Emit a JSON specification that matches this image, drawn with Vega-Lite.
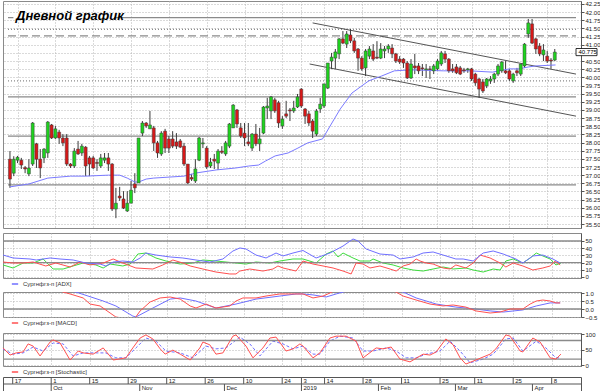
{
"$schema": "https://vega.github.io/schema/vega-lite/v6.json",
"padding": 0,
"background": "white",
"config": {"view": {"stroke": "#8a8a8a"}, "font": "Liberation Sans", "axis": {"labelFont": "Liberation Sans", "labelFontSize": 6, "labelColor": "#222", "tickColor": "#555", "domainColor": "#555", "tickSize": 3, "labelPadding": 1, "labelOverlap": false, "labelBound": false}, "legend": {"labelFont": "Liberation Sans"}},
"datasets": {
"candles": [
{"i":0,"o":37.49,"h":37.74,"l":36.61,"c":36.88},{"i":1,"o":37.06,"h":37.58,"l":36.97,"c":37.49},{"i":2,"o":37.46,"h":37.59,"l":37.37,"c":37.55},{"i":3,"o":37.46,"h":37.53,"l":37.19,"c":37.31},{"i":4,"o":37.23,"h":37.28,"l":37.06,"c":37.19},
{"i":5,"o":37.04,"h":37.49,"l":36.97,"c":37.22},{"i":6,"o":37.34,"h":38.63,"l":37.28,"c":38.6},{"i":7,"o":37.96,"h":37.99,"l":37.22,"c":37.49},{"i":8,"o":37.49,"h":37.8,"l":36.91,"c":37.22},{"i":9,"o":37.53,"h":37.83,"l":37.37,"c":37.8},
{"i":10,"o":37.68,"h":38.66,"l":37.53,"c":38.63},{"i":11,"o":38.54,"h":38.57,"l":38.11,"c":38.14},{"i":12,"o":38.14,"h":38.51,"l":38.11,"c":38.42},{"i":13,"o":38.32,"h":38.39,"l":37.96,"c":38.14},{"i":14,"o":38.14,"h":38.26,"l":37.89,"c":37.99},
{"i":15,"o":38.14,"h":38.26,"l":37.28,"c":37.34},{"i":16,"o":37.34,"h":37.37,"l":37.22,"c":37.28},{"i":17,"o":37.28,"h":37.83,"l":37.22,"c":37.74},{"i":18,"o":37.8,"h":38.05,"l":37.62,"c":37.65},{"i":19,"o":37.68,"h":37.96,"l":37.59,"c":37.89},
{"i":20,"o":37.86,"h":37.89,"l":36.97,"c":37.28},{"i":21,"o":37.53,"h":37.59,"l":36.97,"c":37.34},{"i":22,"o":37.53,"h":37.59,"l":37.19,"c":37.22},{"i":23,"o":37.39,"h":37.49,"l":37.13,"c":37.36},{"i":24,"o":37.28,"h":37.65,"l":37.22,"c":37.53},
{"i":25,"o":37.46,"h":37.68,"l":37.37,"c":37.53},{"i":26,"o":37.53,"h":37.68,"l":37.13,"c":37.34},{"i":27,"o":37.34,"h":37.37,"l":35.9,"c":35.96},{"i":28,"o":35.96,"h":36.61,"l":35.68,"c":36.14},{"i":29,"o":36.36,"h":36.64,"l":36.21,"c":36.3},
{"i":30,"o":36.27,"h":36.51,"l":35.96,"c":35.99},{"i":31,"o":35.9,"h":36.51,"l":35.87,"c":36.14},{"i":32,"o":36.14,"h":36.82,"l":36.14,"c":36.54},{"i":33,"o":36.73,"h":37.06,"l":36.45,"c":36.61},{"i":34,"o":36.76,"h":38.14,"l":36.76,"c":38.14},
{"i":35,"o":38.29,"h":38.66,"l":38.2,"c":38.6},{"i":36,"o":38.6,"h":38.63,"l":38.45,"c":38.51},{"i":37,"o":38.42,"h":38.97,"l":38.42,"c":38.54},{"i":38,"o":38.45,"h":38.51,"l":37.74,"c":37.99},{"i":39,"o":37.99,"h":38.05,"l":37.53,"c":37.68},
{"i":40,"o":37.65,"h":38.35,"l":37.59,"c":38.29},{"i":41,"o":38.35,"h":38.42,"l":37.68,"c":37.83},{"i":42,"o":38.11,"h":38.2,"l":37.68,"c":37.83},{"i":43,"o":38.11,"h":38.35,"l":37.83,"c":37.89},{"i":44,"o":38.02,"h":38.29,"l":37.8,"c":37.89},
{"i":45,"o":38.05,"h":38.11,"l":37.83,"c":37.86},{"i":46,"o":37.89,"h":37.99,"l":37.28,"c":37.34},{"i":47,"o":37.34,"h":37.34,"l":36.73,"c":36.76},{"i":48,"o":36.93,"h":37.04,"l":36.82,"c":36.88},{"i":49,"o":36.82,"h":37.49,"l":36.76,"c":37.19},
{"i":50,"o":37.46,"h":38.17,"l":37.43,"c":38.14},{"i":51,"o":37.96,"h":38.14,"l":37.83,"c":37.99},{"i":52,"o":37.83,"h":37.89,"l":37.19,"c":37.25},{"i":53,"o":37.28,"h":37.53,"l":37.22,"c":37.4},{"i":54,"o":37.49,"h":37.65,"l":37.19,"c":37.43},
{"i":55,"o":37.37,"h":37.8,"l":37.16,"c":37.74},{"i":56,"o":37.74,"h":37.89,"l":37.65,"c":37.7},{"i":57,"o":37.65,"h":38.05,"l":37.59,"c":37.99},{"i":58,"o":37.89,"h":38.6,"l":37.83,"c":38.57},{"i":59,"o":38.45,"h":39.18,"l":38.45,"c":39.15},
{"i":60,"o":39.0,"h":39.03,"l":38.45,"c":38.57},{"i":61,"o":38.45,"h":38.6,"l":38.14,"c":38.2},{"i":62,"o":38.29,"h":38.6,"l":37.89,"c":38.14},{"i":63,"o":38.02,"h":38.6,"l":37.89,"c":37.96},{"i":64,"o":37.83,"h":38.29,"l":37.74,"c":38.26},
{"i":65,"o":38.26,"h":38.57,"l":37.89,"c":37.96},{"i":66,"o":37.96,"h":38.45,"l":37.74,"c":38.11},{"i":67,"o":38.29,"h":39.12,"l":38.26,"c":39.09},{"i":68,"o":39.06,"h":39.37,"l":38.72,"c":39.12},{"i":69,"o":38.97,"h":39.43,"l":38.72,"c":39.4},
{"i":70,"o":39.31,"h":39.37,"l":38.91,"c":38.97},{"i":71,"o":39.22,"h":39.28,"l":38.45,"c":38.6},{"i":72,"o":38.51,"h":38.81,"l":38.42,"c":38.72},{"i":73,"o":38.88,"h":39.28,"l":38.75,"c":38.81},{"i":74,"o":39.0,"h":39.06,"l":38.66,"c":38.97},
{"i":75,"o":38.97,"h":39.28,"l":38.91,"c":39.06},{"i":76,"o":39.09,"h":39.49,"l":39.06,"c":39.4},{"i":77,"o":39.64,"h":39.67,"l":39.06,"c":39.12},{"i":78,"o":39.03,"h":39.06,"l":38.57,"c":38.81},{"i":79,"o":38.88,"h":38.97,"l":38.51,"c":38.6},
{"i":80,"o":38.66,"h":38.72,"l":38.14,"c":38.35},{"i":81,"o":38.26,"h":39.03,"l":38.2,"c":38.97},{"i":82,"o":39.03,"h":39.37,"l":38.91,"c":39.18},{"i":83,"o":39.12,"h":39.8,"l":39.06,"c":39.8},{"i":84,"o":39.67,"h":40.44,"l":39.64,"c":40.44},
{"i":85,"o":40.5,"h":40.75,"l":40.26,"c":40.62},{"i":86,"o":40.59,"h":40.87,"l":40.26,"c":40.78},{"i":87,"o":40.72,"h":41.21,"l":40.56,"c":41.18},{"i":88,"o":41.18,"h":41.42,"l":41.02,"c":41.05},{"i":89,"o":41.02,"h":41.42,"l":40.9,"c":41.33},
{"i":90,"o":41.3,"h":41.48,"l":41.05,"c":41.12},{"i":91,"o":41.12,"h":41.21,"l":40.75,"c":40.81},{"i":92,"o":40.87,"h":40.9,"l":40.2,"c":40.59},{"i":93,"o":40.59,"h":40.65,"l":40.2,"c":40.26},{"i":94,"o":40.29,"h":40.87,"l":40.04,"c":40.81},
{"i":95,"o":40.65,"h":40.96,"l":40.56,"c":40.87},{"i":96,"o":40.81,"h":41.02,"l":40.5,"c":40.56},{"i":97,"o":40.62,"h":41.11,"l":40.56,"c":40.59},{"i":98,"o":40.59,"h":41.05,"l":40.56,"c":40.87},{"i":99,"o":40.81,"h":40.96,"l":40.59,"c":40.87},
{"i":100,"o":40.87,"h":41.02,"l":40.75,"c":40.96},{"i":101,"o":40.9,"h":41.02,"l":40.59,"c":40.72},{"i":102,"o":40.72,"h":40.75,"l":40.44,"c":40.5},{"i":103,"o":40.56,"h":40.65,"l":40.41,"c":40.47},{"i":104,"o":40.56,"h":40.59,"l":40.29,"c":40.44},
{"i":105,"o":40.44,"h":40.5,"l":39.95,"c":39.98},{"i":106,"o":39.98,"h":40.56,"l":39.95,"c":40.41},{"i":107,"o":40.35,"h":40.72,"l":40.1,"c":40.29},{"i":108,"o":40.35,"h":40.44,"l":40.1,"c":40.2},{"i":109,"o":40.29,"h":40.41,"l":40.04,"c":40.26},
{"i":110,"o":40.23,"h":40.41,"l":39.98,"c":40.26},{"i":111,"o":40.26,"h":40.35,"l":39.95,"c":40.24},{"i":112,"o":40.2,"h":40.41,"l":40.1,"c":40.35},{"i":113,"o":40.26,"h":40.56,"l":40.2,"c":40.5},{"i":114,"o":40.41,"h":40.81,"l":40.35,"c":40.75},
{"i":115,"o":40.72,"h":40.81,"l":40.44,"c":40.56},{"i":116,"o":40.56,"h":40.59,"l":40.14,"c":40.2},{"i":117,"o":40.26,"h":40.41,"l":40.14,"c":40.2},{"i":118,"o":40.32,"h":40.41,"l":40.1,"c":40.14},{"i":119,"o":40.29,"h":40.35,"l":40.07,"c":40.1},
{"i":120,"o":40.23,"h":40.29,"l":40.14,"c":40.2},{"i":121,"o":40.23,"h":40.29,"l":40.14,"c":40.26},{"i":122,"o":40.26,"h":40.29,"l":39.89,"c":39.95},{"i":123,"o":40.1,"h":40.14,"l":39.74,"c":39.83},{"i":124,"o":39.95,"h":39.98,"l":39.37,"c":39.64},
{"i":125,"o":39.86,"h":39.95,"l":39.52,"c":39.58},{"i":126,"o":39.74,"h":39.98,"l":39.67,"c":39.95},{"i":127,"o":39.89,"h":40.04,"l":39.8,"c":39.95},{"i":128,"o":39.95,"h":40.14,"l":39.83,"c":40.1},{"i":129,"o":40.1,"h":40.41,"l":40.04,"c":40.35},
{"i":130,"o":40.2,"h":40.5,"l":40.14,"c":40.47},{"i":131,"o":40.2,"h":40.5,"l":40.1,"c":40.14},{"i":132,"o":40.2,"h":40.26,"l":39.89,"c":39.95},{"i":133,"o":39.89,"h":40.14,"l":39.83,"c":40.1},{"i":134,"o":40.2,"h":40.29,"l":40.04,"c":40.14},
{"i":135,"o":40.1,"h":40.41,"l":40.04,"c":40.41},{"i":136,"o":40.35,"h":41.05,"l":40.29,"c":41.02},{"i":137,"o":41.33,"h":41.79,"l":41.21,"c":41.67},{"i":138,"o":41.64,"h":41.79,"l":41.02,"c":41.05},{"i":139,"o":41.18,"h":41.21,"l":40.72,"c":40.87},
{"i":140,"o":40.96,"h":41.05,"l":40.65,"c":40.72},{"i":141,"o":40.69,"h":41.02,"l":40.5,"c":40.84},{"i":142,"o":40.65,"h":40.81,"l":40.44,"c":40.5},{"i":143,"o":40.53,"h":40.59,"l":40.26,"c":40.5},{"i":144,"o":40.53,"h":40.87,"l":40.5,"c":40.775}
],
"ma": [{"i":0,"p":36.64},{"i":5,"p":36.73},{"i":10,"p":36.91},{"i":16,"p":36.97},{"i":20,"p":36.97},{"i":26,"p":37.0},{"i":29,"p":37.0},{"i":31,"p":36.91},{"i":33,"p":36.79},{"i":34,"p":36.79},{"i":36,"p":36.88},{"i":38,"p":36.91},{"i":46,"p":36.97},{"i":49.4,"p":37.07},{"i":54.5,"p":37.16},{"i":59.7,"p":37.22},{"i":63.1,"p":37.28},{"i":65.7,"p":37.31},{"i":67.5,"p":37.43},{"i":70.1,"p":37.59},{"i":73.5,"p":37.68},{"i":76.1,"p":37.83},{"i":78.7,"p":37.99},{"i":82.6,"p":38.11},{"i":85.7,"p":38.72},{"i":87.3,"p":39.03},{"i":90.4,"p":39.52},{"i":94.8,"p":39.89},{"i":98.2,"p":40.04},{"i":101.6,"p":40.2},{"i":106,"p":40.23},{"i":114.5,"p":40.2},{"i":121.6,"p":40.2},{"i":127.5,"p":40.16},{"i":132,"p":40.26},{"i":134.5,"p":40.26},{"i":137.1,"p":40.32},{"i":139,"p":40.35},{"i":144.2,"p":40.38}],
"trend": [{"id":"u","i":80,"p":41.67},{"id":"u","i":149.61,"p":40.1},{"id":"d","i":79.2,"p":40.41},{"id":"d","i":149.61,"p":38.81}],
"levels": [{"p":41.83,"a":-0.52,"b":0.9,"k":"solid"},{"p":41.83,"a":27.5,"b":149.61,"k":"solid"},{"p":41.47,"a":-0.52,"b":149.61,"k":"dotted"},{"p":41.27,"a":-0.52,"b":149.61,"k":"dashed"},{"p":39.89,"a":-0.52,"b":149.61,"k":"dotted"},{"p":39.4,"a":-0.52,"b":149.61,"k":"solid"},{"p":38.2,"a":-0.52,"b":149.61,"k":"solid"},{"p":36.7,"a":-0.52,"b":149.61,"k":"solid"}],
"adx": [
{"s":"A","i":-0.5,"v":30.5},{"s":"A","i":2.1,"v":26.4},{"s":"A","i":6.5,"v":25},{"s":"A","i":8.1,"v":23.6},{"s":"A","i":11.7,"v":26.4},{"s":"A","i":14.3,"v":25},{"s":"A","i":17.7,"v":23.6},{"s":"A","i":21,"v":19.4},{"s":"A","i":24.7,"v":18},{"s":"A","i":26.2,"v":15.3},{"s":"A","i":28.1,"v":20.8},{"s":"A","i":30.6,"v":22.2},{"s":"A","i":33.2,"v":20.8},{"s":"A","i":35.1,"v":26.4},{"s":"A","i":36.6,"v":33.3},{"s":"A","i":39.2,"v":30.5},{"s":"A","i":42.9,"v":27.8},{"s":"A","i":46.2,"v":26.4},{"s":"A","i":49.6,"v":23.6},{"s":"A","i":53.2,"v":20.8},{"s":"A","i":56.6,"v":25},{"s":"A","i":59.2,"v":36.1},{"s":"A","i":61,"v":40.3},{"s":"A","i":62.6,"v":38.9},{"s":"A","i":65.2,"v":30.5},{"s":"A","i":67.8,"v":26.4},{"s":"A","i":70.4,"v":33.3},{"s":"A","i":72.2,"v":29.2},{"s":"A","i":74.8,"v":33.3},{"s":"A","i":77.4,"v":36.8},{"s":"A","i":80.8,"v":26.4},{"s":"A","i":84.4,"v":33.3},{"s":"A","i":87.8,"v":43},{"s":"A","i":90.4,"v":52.8},{"s":"A","i":91.7,"v":50},{"s":"A","i":93.8,"v":38.9},{"s":"A","i":97.4,"v":31.9},{"s":"A","i":100.8,"v":30.5},{"s":"A","i":102.6,"v":25},{"s":"A","i":106,"v":27.8},{"s":"A","i":108.6,"v":33.3},{"s":"A","i":111.2,"v":34.7},{"s":"A","i":113.8,"v":30.5},{"s":"A","i":117.1,"v":25},{"s":"A","i":119,"v":25},{"s":"A","i":121.6,"v":22.2},{"s":"A","i":124.2,"v":33.3},{"s":"A","i":126.8,"v":36.1},{"s":"A","i":129.4,"v":31.9},{"s":"A","i":132.7,"v":25},{"s":"A","i":134.5,"v":19.4},{"s":"A","i":137.1,"v":29.2},{"s":"A","i":139.7,"v":30.5},{"s":"A","i":142.3,"v":25},{"s":"A","i":144.2,"v":19.4},
{"s":"P","i":-0.5,"v":16.7},{"s":"P","i":2.1,"v":12.5},{"s":"P","i":4.7,"v":19.4},{"s":"P","i":7.3,"v":19.4},{"s":"P","i":9.9,"v":25},{"s":"P","i":12.5,"v":11.1},{"s":"P","i":15.1,"v":11.1},{"s":"P","i":17.7,"v":15.3},{"s":"P","i":20.3,"v":19.4},{"s":"P","i":23.6,"v":16.7},{"s":"P","i":25.5,"v":12.5},{"s":"P","i":27.3,"v":18},{"s":"P","i":30.6,"v":15.3},{"s":"P","i":32.5,"v":18},{"s":"P","i":34.5,"v":31.9},{"s":"P","i":36.6,"v":33.3},{"s":"P","i":39.2,"v":26.4},{"s":"P","i":41.8,"v":22.2},{"s":"P","i":45.5,"v":18},{"s":"P","i":48.8,"v":19.4},{"s":"P","i":51.4,"v":23.6},{"s":"P","i":54.8,"v":22.2},{"s":"P","i":60,"v":19.4},{"s":"P","i":62.6,"v":18},{"s":"P","i":65.2,"v":20.8},{"s":"P","i":68.8,"v":19.4},{"s":"P","i":71.4,"v":22.2},{"s":"P","i":74.8,"v":25},{"s":"P","i":77.4,"v":25},{"s":"P","i":80.8,"v":19.4},{"s":"P","i":83.4,"v":31.9},{"s":"P","i":85.2,"v":36.1},{"s":"P","i":86.5,"v":27.8},{"s":"P","i":87.8,"v":33.3},{"s":"P","i":90.4,"v":26.4},{"s":"P","i":92.2,"v":22.2},{"s":"P","i":94.8,"v":22.2},{"s":"P","i":95.6,"v":25},{"s":"P","i":98.2,"v":19.4},{"s":"P","i":100.8,"v":16.7},{"s":"P","i":103.4,"v":12.5},{"s":"P","i":106,"v":9.7},{"s":"P","i":108.6,"v":8.3},{"s":"P","i":111.2,"v":11.1},{"s":"P","i":113.8,"v":13.9},{"s":"P","i":116.4,"v":11.1},{"s":"P","i":119.7,"v":12.5},{"s":"P","i":121.6,"v":9.7},{"s":"P","i":124.2,"v":6.9},{"s":"P","i":126.8,"v":11.1},{"s":"P","i":128.6,"v":9.7},{"s":"P","i":130.1,"v":22.2},{"s":"P","i":132,"v":25},{"s":"P","i":134.5,"v":19.4},{"s":"P","i":136.4,"v":26.4},{"s":"P","i":138,"v":33.3},{"s":"P","i":139.7,"v":29.2},{"s":"P","i":141.6,"v":25},{"s":"P","i":143.1,"v":16.7},{"s":"P","i":144.4,"v":19.4},
{"s":"M","i":-0.5,"v":20.8},{"s":"M","i":2.1,"v":19.4},{"s":"M","i":4.7,"v":19.4},{"s":"M","i":7.3,"v":20.8},{"s":"M","i":10.6,"v":15.3},{"s":"M","i":13.2,"v":19.4},{"s":"M","i":16.9,"v":13.9},{"s":"M","i":19.5,"v":20.8},{"s":"M","i":22.1,"v":16.7},{"s":"M","i":25.5,"v":19.4},{"s":"M","i":28.1,"v":25},{"s":"M","i":30.6,"v":19.4},{"s":"M","i":34,"v":12.5},{"s":"M","i":38.4,"v":11.1},{"s":"M","i":41,"v":16.7},{"s":"M","i":43.6,"v":23.6},{"s":"M","i":46.2,"v":19.4},{"s":"M","i":48.1,"v":15.3},{"s":"M","i":51.4,"v":11.1},{"s":"M","i":54.8,"v":6.9},{"s":"M","i":58.4,"v":4.2},{"s":"M","i":60,"v":4.2},{"s":"M","i":61,"v":8.3},{"s":"M","i":63.6,"v":11.1},{"s":"M","i":67,"v":8.3},{"s":"M","i":69.6,"v":11.1},{"s":"M","i":70.9,"v":15.3},{"s":"M","i":72.2,"v":12.5},{"s":"M","i":75.6,"v":8.3},{"s":"M","i":77.4,"v":22.2},{"s":"M","i":80,"v":18},{"s":"M","i":82.6,"v":15.3},{"s":"M","i":85.2,"v":12.5},{"s":"M","i":87.8,"v":8.3},{"s":"M","i":89.9,"v":4.2},{"s":"M","i":91.2,"v":19.4},{"s":"M","i":93,"v":18},{"s":"M","i":94.8,"v":12.5},{"s":"M","i":97.4,"v":15.3},{"s":"M","i":100,"v":11.1},{"s":"M","i":101.6,"v":8.3},{"s":"M","i":103.4,"v":15.3},{"s":"M","i":105.2,"v":18},{"s":"M","i":106.8,"v":25},{"s":"M","i":107.8,"v":22.2},{"s":"M","i":109.4,"v":19.4},{"s":"M","i":111.2,"v":18},{"s":"M","i":113.8,"v":12.5},{"s":"M","i":115.6,"v":11.1},{"s":"M","i":117.1,"v":16.7},{"s":"M","i":119.7,"v":12.5},{"s":"M","i":121.6,"v":19.4},{"s":"M","i":123.4,"v":30.5},{"s":"M","i":126,"v":26.4},{"s":"M","i":128.6,"v":19.4},{"s":"M","i":130.1,"v":13.9},{"s":"M","i":132,"v":19.4},{"s":"M","i":134.5,"v":15.3},{"s":"M","i":137.1,"v":9.7},{"s":"M","i":139.7,"v":12.5},{"s":"M","i":141.6,"v":15.3},{"s":"M","i":142.9,"v":22.2},{"s":"M","i":144.2,"v":16.7}
],
"macd": [
{"s":"M","i":-0.5,"v":1.6},{"s":"M","i":8,"v":1.45},{"s":"M","i":14,"v":1.15},{"s":"M","i":15.1,"v":1.06},{"s":"M","i":16.9,"v":0.94},{"s":"M","i":20.3,"v":0.69},{"s":"M","i":22.1,"v":0.31},{"s":"M","i":24.7,"v":0.19},{"s":"M","i":27.3,"v":-0.25},{"s":"M","i":28.8,"v":-0.5},{"s":"M","i":32,"v":-0.62},{"s":"M","i":33.8,"v":-0.56},{"s":"M","i":35.1,"v":-0.12},{"s":"M","i":37.7,"v":0.44},{"s":"M","i":40.3,"v":0.69},{"s":"M","i":42.9,"v":0.75},{"s":"M","i":45.5,"v":0.62},{"s":"M","i":48.1,"v":0.19},{"s":"M","i":49.6,"v":0.06},{"s":"M","i":52.2,"v":0.31},{"s":"M","i":54.8,"v":0.06},{"s":"M","i":58.4,"v":0.19},{"s":"M","i":60,"v":0.5},{"s":"M","i":61.8,"v":0.69},{"s":"M","i":65.2,"v":0.69},{"s":"M","i":67.8,"v":0.81},{"s":"M","i":71.4,"v":0.94},{"s":"M","i":74.8,"v":0.94},{"s":"M","i":77.4,"v":0.94},{"s":"M","i":80,"v":0.69},{"s":"M","i":82.6,"v":0.81},{"s":"M","i":84.4,"v":1.0},{"s":"M","i":87.8,"v":1.4},{"s":"M","i":93,"v":1.6},{"s":"M","i":98.2,"v":1.3},{"s":"M","i":101.6,"v":1.06},{"s":"M","i":103.4,"v":0.81},{"s":"M","i":106.8,"v":0.56},{"s":"M","i":110.4,"v":0.31},{"s":"M","i":113.8,"v":0.19},{"s":"M","i":116.4,"v":0.25},{"s":"M","i":119.7,"v":0.12},{"s":"M","i":122.3,"v":-0.12},{"s":"M","i":126,"v":-0.25},{"s":"M","i":128.6,"v":-0.19},{"s":"M","i":131.2,"v":0},{"s":"M","i":134.5,"v":0},{"s":"M","i":136.4,"v":0.31},{"s":"M","i":138,"v":0.5},{"s":"M","i":139.7,"v":0.56},{"s":"M","i":141.6,"v":0.5},{"s":"M","i":143.1,"v":0.38},{"s":"M","i":144.2,"v":0.38},
{"s":"S","i":-0.5,"v":1.7},{"s":"S","i":10,"v":1.4},{"s":"S","i":18.4,"v":1.06},{"s":"S","i":25.5,"v":0.5},{"s":"S","i":28.8,"v":0.19},{"s":"S","i":33.2,"v":-0.44},{"s":"S","i":34,"v":-0.5},{"s":"S","i":38.4,"v":0.06},{"s":"S","i":42.9,"v":0.62},{"s":"S","i":45.5,"v":0.69},{"s":"S","i":49.6,"v":0.5},{"s":"S","i":54.8,"v":0.06},{"s":"S","i":60,"v":0.31},{"s":"S","i":65.2,"v":0.62},{"s":"S","i":71.4,"v":0.81},{"s":"S","i":75.6,"v":0.94},{"s":"S","i":77.4,"v":0.94},{"s":"S","i":80,"v":0.88},{"s":"S","i":83.4,"v":0.75},{"s":"S","i":86,"v":0.94},{"s":"S","i":87.8,"v":1.06},{"s":"S","i":93,"v":1.4},{"s":"S","i":99.5,"v":1.3},{"s":"S","i":103.4,"v":1.06},{"s":"S","i":106.8,"v":0.69},{"s":"S","i":112,"v":0.31},{"s":"S","i":117.1,"v":0.12},{"s":"S","i":122.3,"v":0},{"s":"S","i":126,"v":-0.12},{"s":"S","i":129.4,"v":-0.19},{"s":"S","i":134.5,"v":-0.06},{"s":"S","i":138,"v":0.19},{"s":"S","i":141.6,"v":0.38},{"s":"S","i":144.2,"v":0.38}
],
"stoch": [
{"s":"K","i":-0.5,"v":56},{"s":"K","i":1.3,"v":33},{"s":"K","i":2.9,"v":40},{"s":"K","i":4.7,"v":43},{"s":"K","i":6,"v":69},{"s":"K","i":7.3,"v":62},{"s":"K","i":9.1,"v":30},{"s":"K","i":11.7,"v":75},{"s":"K","i":12.5,"v":82},{"s":"K","i":14.3,"v":72},{"s":"K","i":16.9,"v":17},{"s":"K","i":19,"v":46},{"s":"K","i":20.3,"v":40},{"s":"K","i":22.9,"v":36},{"s":"K","i":25.5,"v":56},{"s":"K","i":28.1,"v":17},{"s":"K","i":31.4,"v":24},{"s":"K","i":33.2,"v":56},{"s":"K","i":35.1,"v":88},{"s":"K","i":36.6,"v":98},{"s":"K","i":38.4,"v":85},{"s":"K","i":40.3,"v":53},{"s":"K","i":41.6,"v":36},{"s":"K","i":43.6,"v":49},{"s":"K","i":45.5,"v":36},{"s":"K","i":48.1,"v":17},{"s":"K","i":50.6,"v":56},{"s":"K","i":51.4,"v":75},{"s":"K","i":53.2,"v":66},{"s":"K","i":54.8,"v":36},{"s":"K","i":56.6,"v":40},{"s":"K","i":59.2,"v":94},{"s":"K","i":60,"v":98},{"s":"K","i":62.6,"v":62},{"s":"K","i":64.4,"v":24},{"s":"K","i":67,"v":56},{"s":"K","i":68.8,"v":88},{"s":"K","i":70.4,"v":91},{"s":"K","i":73,"v":46},{"s":"K","i":74.8,"v":53},{"s":"K","i":76.6,"v":69},{"s":"K","i":77.4,"v":62},{"s":"K","i":80,"v":24},{"s":"K","i":81.8,"v":40},{"s":"K","i":84.4,"v":88},{"s":"K","i":86,"v":94},{"s":"K","i":88.6,"v":94},{"s":"K","i":91.2,"v":78},{"s":"K","i":93,"v":24},{"s":"K","i":96.4,"v":56},{"s":"K","i":98.2,"v":53},{"s":"K","i":100.3,"v":59},{"s":"K","i":102.6,"v":20},{"s":"K","i":105.2,"v":11},{"s":"K","i":108.6,"v":36},{"s":"K","i":110.4,"v":33},{"s":"K","i":112,"v":43},{"s":"K","i":114.5,"v":85},{"s":"K","i":116.4,"v":66},{"s":"K","i":118.2,"v":24},{"s":"K","i":119.7,"v":4},{"s":"K","i":122.3,"v":17},{"s":"K","i":126,"v":36},{"s":"K","i":127.5,"v":53},{"s":"K","i":130.1,"v":98},{"s":"K","i":131.2,"v":94},{"s":"K","i":133.8,"v":46},{"s":"K","i":134.5,"v":43},{"s":"K","i":137.1,"v":88},{"s":"K","i":139,"v":75},{"s":"K","i":141.6,"v":24},{"s":"K","i":143.1,"v":20},{"s":"K","i":144.4,"v":36},
{"s":"D","i":-0.5,"v":52},{"s":"D","i":2.1,"v":36},{"s":"D","i":4.7,"v":40},{"s":"D","i":7.3,"v":59},{"s":"D","i":9.9,"v":46},{"s":"D","i":12.5,"v":72},{"s":"D","i":15.1,"v":69},{"s":"D","i":17.7,"v":30},{"s":"D","i":20.3,"v":40},{"s":"D","i":23.6,"v":40},{"s":"D","i":26.2,"v":40},{"s":"D","i":28.8,"v":24},{"s":"D","i":31.4,"v":24},{"s":"D","i":34,"v":56},{"s":"D","i":36.6,"v":88},{"s":"D","i":39.2,"v":78},{"s":"D","i":41.8,"v":46},{"s":"D","i":45.5,"v":40},{"s":"D","i":48.8,"v":24},{"s":"D","i":52.2,"v":62},{"s":"D","i":54.8,"v":53},{"s":"D","i":57.4,"v":56},{"s":"D","i":61,"v":91},{"s":"D","i":63.6,"v":69},{"s":"D","i":66.2,"v":30},{"s":"D","i":69.6,"v":78},{"s":"D","i":72.2,"v":69},{"s":"D","i":74.8,"v":53},{"s":"D","i":77.4,"v":62},{"s":"D","i":80,"v":36},{"s":"D","i":81.8,"v":36},{"s":"D","i":84.4,"v":78},{"s":"D","i":87,"v":94},{"s":"D","i":90.4,"v":88},{"s":"D","i":93,"v":46},{"s":"D","i":95.6,"v":46},{"s":"D","i":99,"v":56},{"s":"D","i":101.6,"v":46},{"s":"D","i":104.2,"v":24},{"s":"D","i":106.8,"v":24},{"s":"D","i":109.4,"v":36},{"s":"D","i":113,"v":46},{"s":"D","i":115.6,"v":78},{"s":"D","i":118.2,"v":46},{"s":"D","i":120.8,"v":8},{"s":"D","i":124.2,"v":20},{"s":"D","i":126.8,"v":36},{"s":"D","i":130.1,"v":85},{"s":"D","i":132,"v":88},{"s":"D","i":134.5,"v":46},{"s":"D","i":138,"v":78},{"s":"D","i":140.5,"v":56},{"s":"D","i":143.1,"v":24},{"s":"D","i":144.4,"v":24}
],
"dates": [
{"i":2,"t":"17","r":1},{"i":12,"t":"1","r":1},{"i":22,"t":"15","r":1},{"i":32,"t":"29","r":1},{"i":42,"t":"12","r":1},{"i":52,"t":"26","r":1},{"i":62,"t":"10","r":1},{"i":72,"t":"24","r":1},{"i":77,"t":"3","r":1},{"i":83,"t":"14","r":1},{"i":93,"t":"28","r":1},{"i":103,"t":"11","r":1},{"i":113,"t":"25","r":1},{"i":122,"t":"11","r":1},{"i":132,"t":"25","r":1},{"i":142,"t":"8","r":1},
{"i":12,"t":"Oct","r":0},{"i":35,"t":"Nov","r":0},{"i":57,"t":"Dec","r":0},{"i":77,"t":"2019","r":0},{"i":97,"t":"Feb","r":0},{"i":117,"t":"Mar","r":0},{"i":137,"t":"Apr","r":0}
]
},
"bounds": "flush",
"spacing": 5,
"resolve": {"scale": {"color": "independent"}, "legend": {"color": "independent"}},
"vconcat": [
{
"width": 578, "height": 227,
"layer": [
{"data": {"name": "levels"}, "mark": {"type": "rule", "color": "#8a8a8a", "strokeWidth": 1.3},
 "encoding": {
  "x": {"field": "a", "type": "quantitative", "scale": {"domain": [-0.52, 149.61], "nice": false, "zero": false}, "axis": {"values": [2,12,22,32,42,52,62,72,77,83,93,103,113,122,132,142], "tickCount": 200, "labels": false, "ticks": false, "domain": false, "grid": true, "gridDash": [1,2], "gridColor": "#b4b4b4", "title": null}},
  "x2": {"field": "b"},
  "y": {"field": "p", "type": "quantitative", "scale": {"domain": [35.379, 42.342], "nice": false, "zero": false}, "axis": {"orient": "right", "values": [35.5,35.75,36,36.25,36.5,36.75,37,37.25,37.5,37.75,38,38.25,38.5,38.75,39,39.25,39.5,39.75,40,40.25,40.5,40.75,41,41.25,41.5,41.75,42,42.25], "tickCount": 200, "labelExpr": "datum.value == 40.75 ? '' : format(datum.value, '.2f')", "labelOverlap": false, "grid": true, "gridDash": [1,2], "gridColor": "#b4b4b4", "title": null}},
  "strokeDash": {"field": "k", "type": "nominal", "scale": {"domain": ["solid","dotted","dashed"], "range": [[1,0],[1,2],[8,4]]}, "legend": null}
 }},
{"data": {"name": "trend"}, "mark": {"type": "line", "color": "#555", "strokeWidth": 1},
 "encoding": {"x": {"field": "i", "type": "quantitative", "scale": {"domain": [-0.52, 149.61], "nice": false, "zero": false}}, "y": {"field": "p", "type": "quantitative", "scale": {"domain": [35.379, 42.342], "nice": false, "zero": false}}, "detail": {"field": "id"}}},
{"data": {"name": "candles"}, "mark": {"type": "rule", "color": "#3c3c3c", "strokeWidth": 1},
 "encoding": {"x": {"field": "i", "type": "quantitative", "scale": {"domain": [-0.52, 149.61], "nice": false, "zero": false}}, "y": {"field": "l", "type": "quantitative", "scale": {"domain": [35.379, 42.342], "nice": false, "zero": false}}, "y2": {"field": "h"}}},
{"data": {"name": "ma"}, "mark": {"type": "line", "color": "#7a7aff", "strokeWidth": 1},
 "encoding": {"x": {"field": "i", "type": "quantitative", "scale": {"domain": [-0.52, 149.61], "nice": false, "zero": false}}, "y": {"field": "p", "type": "quantitative", "scale": {"domain": [35.379, 42.342], "nice": false, "zero": false}}}},
{"data": {"name": "candles"}, "mark": {"type": "bar", "size": 3, "stroke": "#3a3a3a", "strokeWidth": 0.5},
 "encoding": {"x": {"field": "i", "type": "quantitative", "scale": {"domain": [-0.52, 149.61], "nice": false, "zero": false}}, "y": {"field": "o", "type": "quantitative", "scale": {"domain": [35.379, 42.342], "nice": false, "zero": false}}, "y2": {"field": "c"}, "fill": {"condition": {"test": "datum.c >= datum.o", "value": "#1ed41e"}, "value": "#d81818"}}},
{"data": {"values": [{}]}, "mark": {"type": "text", "text": "Дневной график", "font": "Liberation Sans", "fontSize": 13, "fontWeight": "bold", "fontStyle": "italic", "align": "left", "baseline": "middle", "color": "#000"},
 "encoding": {"x": {"datum": 1.6, "type": "quantitative", "scale": {"domain": [-0.52, 149.61], "nice": false, "zero": false}}, "y": {"datum": 41.88, "type": "quantitative", "scale": {"domain": [35.379, 42.342], "nice": false, "zero": false}}}},
{"data": {"values": [{}]}, "mark": {"type": "point", "shape": "M0,-0.17H1V0.17H0Z", "size": 1764, "filled": true, "fill": "#fff", "stroke": "#000", "strokeWidth": 0.8, "opacity": 1},
 "encoding": {"x": {"datum": 149.61, "type": "quantitative", "scale": {"domain": [-0.52, 149.61], "nice": false, "zero": false}}, "y": {"datum": 40.775, "type": "quantitative", "scale": {"domain": [35.379, 42.342], "nice": false, "zero": false}}}},
{"data": {"values": [{}]}, "mark": {"type": "text", "text": "40.775", "align": "left", "dx": 2.5, "fontSize": 6, "baseline": "middle", "color": "#000"},
 "encoding": {"x": {"datum": 149.61, "type": "quantitative", "scale": {"domain": [-0.52, 149.61], "nice": false, "zero": false}}, "y": {"datum": 40.775, "type": "quantitative", "scale": {"domain": [35.379, 42.342], "nice": false, "zero": false}}}}
]
},
{
"bounds": "flush",
"spacing": 14,
"resolve": {"scale": {"color": "independent"}, "legend": {"color": "independent"}},
"vconcat": [
{
"width": 578, "height": 45,
"layer": [
{"data": {"name": "adx"}, "transform": [{"filter": "datum.s == 'P'"}], "mark": {"type": "line", "color": "#3ddc3d", "strokeWidth": 1},
 "encoding": {"x": {"field": "i", "type": "quantitative", "scale": {"domain": [-0.52, 149.61], "nice": false, "zero": false}, "axis": {"values": [2,12,22,32,42,52,62,72,77,83,93,103,113,122,132,142], "tickCount": 200, "labels": false, "ticks": false, "domain": false, "grid": true, "gridDash": [1,2], "gridColor": "#b4b4b4", "title": null}},
  "y": {"field": "v", "type": "quantitative", "scale": {"domain": [-1.39, 61.1], "nice": false, "zero": false}, "axis": {"orient": "right", "values": [0,10,20,30,40,50], "tickCount": 200, "format": "d", "labelOverlap": false, "grid": true, "gridDash": [1,2], "gridColor": "#b4b4b4", "title": null}}}},
{"data": {"values": [{"v": 20}, {"v": 50}]}, "mark": {"type": "rule", "color": "#8a8a8a", "strokeWidth": 1.3},
 "encoding": {"y": {"field": "v", "type": "quantitative", "scale": {"domain": [-1.39, 61.1], "nice": false, "zero": false}}}},
{"data": {"name": "adx"}, "transform": [{"filter": "datum.s == 'M'"}], "mark": {"type": "line", "color": "#ff5050", "strokeWidth": 1},
 "encoding": {"x": {"field": "i", "type": "quantitative", "scale": {"domain": [-0.52, 149.61], "nice": false, "zero": false}}, "y": {"field": "v", "type": "quantitative", "scale": {"domain": [-1.39, 61.1], "nice": false, "zero": false}}}},
{"data": {"name": "adx"}, "transform": [{"filter": "datum.s == 'A'"}], "mark": {"type": "line", "strokeWidth": 1},
 "encoding": {"x": {"field": "i", "type": "quantitative", "scale": {"domain": [-0.52, 149.61], "nice": false, "zero": false}}, "y": {"field": "v", "type": "quantitative", "scale": {"domain": [-1.39, 61.1], "nice": false, "zero": false}},
  "color": {"datum": "Сургнфгз-п [ADX]", "type": "nominal", "scale": {"range": ["#6f6fff"]}, "legend": {"orient": "bottom", "title": null, "symbolType": "stroke", "symbolStrokeWidth": 1.5, "symbolSize": 40, "symbolOffset": 8, "labelFontSize": 6, "labelColor": "#333", "offset": 2, "padding": 0}}}}
]
},
{
"bounds": "flush",
"spacing": 16,
"resolve": {"scale": {"color": "independent"}, "legend": {"color": "independent"}},
"vconcat": [
{
"width": 578, "height": 25,
"layer": [
{"data": {"name": "macd"}, "transform": [{"filter": "datum.s == 'S'"}], "mark": {"type": "line", "color": "#6f6fff", "strokeWidth": 1, "clip": true},
 "encoding": {"x": {"field": "i", "type": "quantitative", "scale": {"domain": [-0.52, 149.61], "nice": false, "zero": false}, "axis": {"values": [2,12,22,32,42,52,62,72,77,83,93,103,113,122,132,142], "tickCount": 200, "labels": false, "ticks": false, "domain": false, "grid": true, "gridDash": [1,2], "gridColor": "#b4b4b4", "title": null}},
  "y": {"field": "v", "type": "quantitative", "scale": {"domain": [-0.5, 1.0625], "nice": false, "zero": false}, "axis": {"orient": "right", "values": [-0.5,0,0.5,1], "tickCount": 200, "format": ".1f", "labelOverlap": false, "grid": true, "gridDash": [1,2], "gridColor": "#b4b4b4", "title": null}}}},
{"data": {"values": [{"v": 0}]}, "mark": {"type": "rule", "color": "#8a8a8a", "strokeWidth": 1.3},
 "encoding": {"y": {"field": "v", "type": "quantitative", "scale": {"domain": [-0.5, 1.0625], "nice": false, "zero": false}}}},
{"data": {"name": "macd"}, "transform": [{"filter": "datum.s == 'M'"}], "mark": {"type": "line", "strokeWidth": 1, "clip": true},
 "encoding": {"x": {"field": "i", "type": "quantitative", "scale": {"domain": [-0.52, 149.61], "nice": false, "zero": false}}, "y": {"field": "v", "type": "quantitative", "scale": {"domain": [-0.5, 1.0625], "nice": false, "zero": false}},
  "color": {"datum": "Сургнфгз-п [MACD]", "type": "nominal", "scale": {"range": ["#ff5050"]}, "legend": {"orient": "bottom", "title": null, "symbolType": "stroke", "symbolStrokeWidth": 1.5, "symbolSize": 40, "symbolOffset": 8, "labelFontSize": 6, "labelColor": "#333", "offset": 2, "padding": 0}}}}
]
},
{
"bounds": "flush",
"spacing": 11,
"resolve": {"scale": {"color": "independent"}, "legend": {"color": "independent"}},
"vconcat": [
{
"width": 578, "height": 33,
"layer": [
{"data": {"name": "stoch"}, "transform": [{"filter": "datum.s == 'D'"}], "mark": {"type": "line", "color": "#6f6fff", "strokeWidth": 1, "strokeDash": [3,2]},
 "encoding": {"x": {"field": "i", "type": "quantitative", "scale": {"domain": [-0.52, 149.61], "nice": false, "zero": false}, "axis": {"values": [2,12,22,32,42,52,62,72,77,83,93,103,113,122,132,142], "tickCount": 200, "labels": false, "ticks": false, "domain": false, "grid": true, "gridDash": [1,2], "gridColor": "#b4b4b4", "title": null}},
  "y": {"field": "v", "type": "quantitative", "scale": {"domain": [-2.3, 104.2], "nice": false, "zero": false}, "axis": {"orient": "right", "values": [0,50,100], "tickCount": 200, "format": "d", "labelOverlap": false, "grid": true, "gridDash": [1,2], "gridColor": "#b4b4b4", "title": null}}}},
{"data": {"values": [{"v": 20}, {"v": 80}]}, "mark": {"type": "rule", "color": "#8a8a8a", "strokeWidth": 1.3},
 "encoding": {"y": {"field": "v", "type": "quantitative", "scale": {"domain": [-2.3, 104.2], "nice": false, "zero": false}}}},
{"data": {"name": "stoch"}, "transform": [{"filter": "datum.s == 'K'"}], "mark": {"type": "line", "strokeWidth": 1},
 "encoding": {"x": {"field": "i", "type": "quantitative", "scale": {"domain": [-0.52, 149.61], "nice": false, "zero": false}}, "y": {"field": "v", "type": "quantitative", "scale": {"domain": [-2.3, 104.2], "nice": false, "zero": false}},
  "color": {"datum": "Сургнфгз-п [Stochastic]", "type": "nominal", "scale": {"range": ["#ff5050"]}, "legend": {"orient": "bottom", "title": null, "symbolType": "stroke", "symbolStrokeWidth": 1.5, "symbolSize": 40, "symbolOffset": 8, "labelFontSize": 6, "labelColor": "#333", "offset": 2, "padding": 0}}}}
]
},
{
"width": 578, "height": 14,
"view": {"stroke": "#555"},
"layer": [
{"data": {"values": [{}]}, "mark": {"type": "rule", "color": "#555"},
 "encoding": {"y": {"datum": 1, "type": "quantitative", "scale": {"domain": [0, 2], "nice": false, "zero": false}, "axis": null}}},
{"data": {"name": "dates"}, "transform": [{"filter": "datum.r == 1"}], "mark": {"type": "rule", "color": "#555"},
 "encoding": {"x": {"field": "i", "type": "quantitative", "scale": {"domain": [-0.52, 149.61], "nice": false, "zero": false}, "axis": null}, "y": {"datum": 1, "type": "quantitative", "scale": {"domain": [0, 2], "nice": false, "zero": false}, "axis": null}, "y2": {"datum": 2}}},
{"data": {"name": "dates"}, "transform": [{"filter": "datum.r == 1"}], "mark": {"type": "text", "align": "left", "baseline": "middle", "dx": 2, "fontSize": 6, "color": "#222"},
 "encoding": {"x": {"field": "i", "type": "quantitative", "scale": {"domain": [-0.52, 149.61], "nice": false, "zero": false}, "axis": null}, "y": {"datum": 1.5, "type": "quantitative", "scale": {"domain": [0, 2], "nice": false, "zero": false}, "axis": null}, "text": {"field": "t"}}},
{"data": {"name": "dates"}, "transform": [{"filter": "datum.r == 0"}], "mark": {"type": "rule", "color": "#555"},
 "encoding": {"x": {"field": "i", "type": "quantitative", "scale": {"domain": [-0.52, 149.61], "nice": false, "zero": false}, "axis": null}, "y": {"datum": 0, "type": "quantitative", "scale": {"domain": [0, 2], "nice": false, "zero": false}, "axis": null}, "y2": {"datum": 1}}},
{"data": {"name": "dates"}, "transform": [{"filter": "datum.r == 0"}], "mark": {"type": "text", "align": "left", "baseline": "middle", "dx": 2, "fontSize": 6, "color": "#222"},
 "encoding": {"x": {"field": "i", "type": "quantitative", "scale": {"domain": [-0.52, 149.61], "nice": false, "zero": false}, "axis": null}, "y": {"datum": 0.5, "type": "quantitative", "scale": {"domain": [0, 2], "nice": false, "zero": false}, "axis": null}, "text": {"field": "t"}}}
]
}
]
}
]
}
]
}
]
}
